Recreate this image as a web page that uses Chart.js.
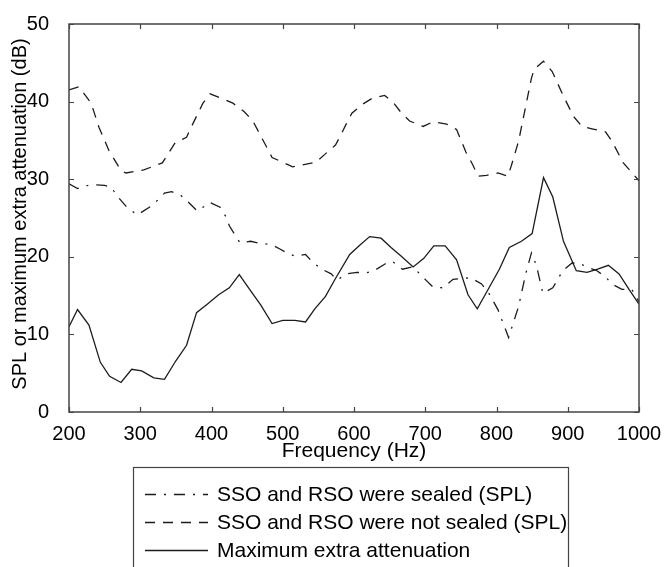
<!DOCTYPE html>
<html>
<head>
<meta charset="utf-8">
<script src="https://cdn.jsdelivr.net/npm/chart.js@4.4.1/dist/chart.umd.min.js"></script>
<style>
  html, body { margin: 0; padding: 0; background: #fff; }
  canvas { display: block; }
</style>
</head>
<body>
<canvas id="chart" width="664" height="567"></canvas>
<script>
// SSO and RSO were sealed (SPL) - dash-dot
const freqSealed = [200, 212, 230, 250, 259, 268, 282, 296, 318, 334, 344, 356, 368, 380, 398, 412, 420, 425, 440, 455, 470, 484, 496, 506, 517, 532, 542, 555, 568, 576, 590, 604, 616, 628, 644, 654, 668, 682, 688, 702, 711, 725, 739, 764, 779, 788, 802, 817, 831, 841, 849, 856, 865, 879, 893, 906, 915, 927, 941, 953, 962, 976, 990, 1000];
const splSealed = [29.4, 28.8, 29.3, 29.2, 29.0, 27.8, 26.3, 25.4, 26.7, 28.2, 28.4, 28.0, 27.0, 25.9, 27.0, 26.4, 25.2, 24.0, 21.8, 22.0, 21.7, 21.6, 21.0, 20.5, 20.1, 20.3, 19.3, 18.4, 17.8, 17.0, 17.8, 18.0, 17.9, 18.2, 19.1, 19.4, 18.4, 18.7, 18.2, 16.9, 16.1, 16.0, 17.1, 17.3, 16.5, 15.5, 13.2, 9.6, 13.6, 17.8, 20.5, 18.9, 15.3, 16.0, 18.2, 19.2, 19.2, 18.7, 18.2, 17.4, 16.5, 15.8, 15.8, 14.2];

// SSO and RSO were not sealed (SPL) - dashed
const freqOpen = [200, 214, 231, 242, 256, 273, 280, 305, 331, 349, 365, 372, 388, 398, 415, 430, 446, 458, 469, 485, 514, 547, 559, 574, 581, 589, 597, 611, 625, 643, 655, 666, 678, 697, 711, 730, 744, 757, 767, 774, 786, 802, 816, 821, 831, 849, 853, 866, 878, 893, 908, 920, 934, 953, 962, 978, 1000];
const splOpen = [41.5, 41.9, 39.8, 36.7, 33.7, 31.1, 30.8, 31.2, 32.1, 34.7, 35.4, 36.8, 39.8, 41.0, 40.4, 39.8, 38.7, 37.5, 35.6, 32.8, 31.6, 32.2, 33.2, 34.4, 35.6, 37.1, 38.5, 39.6, 40.4, 40.8, 39.9, 38.6, 37.5, 36.8, 37.4, 37.1, 36.4, 33.5, 31.8, 30.4, 30.5, 30.8, 30.4, 31.8, 34.9, 43.0, 44.2, 45.2, 43.9, 40.9, 38.1, 36.8, 36.5, 36.1, 34.9, 32.1, 29.8];

// Maximum extra attenuation - solid
const freqAtten = [200, 212, 228, 244, 257, 273, 288, 302, 319, 334, 350, 365, 379, 394, 410, 425, 439, 455, 469, 485, 500, 517, 532, 545, 560, 574, 594, 608, 622, 638, 652, 666, 683, 698, 712, 728, 744, 760, 773, 787, 804, 818, 835, 850, 866, 879, 894, 912, 927, 942, 957, 972, 986, 1000];
const maxAtten = [11.0, 13.2, 11.2, 6.4, 4.6, 3.8, 5.5, 5.3, 4.4, 4.2, 6.6, 8.6, 12.8, 13.9, 15.1, 16.0, 17.7, 15.6, 13.8, 11.4, 11.8, 11.8, 11.6, 13.3, 14.9, 17.2, 20.3, 21.5, 22.6, 22.4, 21.2, 20.1, 18.7, 19.8, 21.4, 21.4, 19.6, 15.1, 13.3, 15.6, 18.4, 21.2, 22.0, 23.0, 30.2, 27.7, 22.0, 18.2, 18.0, 18.4, 18.9, 17.8, 15.8, 13.9];

const xTicks = [200, 300, 400, 500, 600, 700, 800, 900, 1000];
const yTicks = [0, 10, 20, 30, 40, 50];

const seriesNames = [
  'SSO and RSO were sealed (SPL)',
  'SSO and RSO were not sealed (SPL)',
  'Maximum extra attenuation'
];
const yTitle = 'SPL or maximum extra attenuation (dB)';

const FONT = '"Liberation Sans", Arial, Helvetica, sans-serif';
const INK = '#1c1c1c';

function toPoints(xs, ys) {
  return xs.map((x, i) => ({ x: x, y: ys[i] }));
}

// box on all four sides + inward ticks, like matlab
const boxTicks = {
  id: 'boxTicks',
  afterDraw(chart) {
    const { ctx, chartArea: a, scales } = chart;
    ctx.save();
    ctx.strokeStyle = '#444';
    ctx.lineWidth = 1.5;
    ctx.strokeRect(a.left, a.top, a.right - a.left, a.bottom - a.top);
    ctx.lineWidth = 1.2;
    ctx.beginPath();
    const len = 5;
    xTicks.forEach(v => {
      const px = Math.round(scales.x.getPixelForValue(v)) + 0.5;
      ctx.moveTo(px, a.bottom); ctx.lineTo(px, a.bottom - len);
      ctx.moveTo(px, a.top); ctx.lineTo(px, a.top + len);
    });
    yTicks.forEach(v => {
      const py = Math.round(scales.y.getPixelForValue(v)) + 0.5;
      ctx.moveTo(a.left, py); ctx.lineTo(a.left + len, py);
      ctx.moveTo(a.right, py); ctx.lineTo(a.right - len, py);
    });
    ctx.stroke();

    // y title drawn by hand so it can sit where the original has it
    ctx.fillStyle = '#000';
    ctx.font = '20px ' + FONT;
    ctx.textAlign = 'center';
    ctx.textBaseline = 'middle';
    ctx.translate(20, 214);
    ctx.rotate(-Math.PI / 2);
    ctx.fillText(yTitle, 0, 0);
    ctx.restore();
  }
};

// legend in a framed box under the x axis title
const boxLegend = {
  id: 'boxLegend',
  afterDraw(chart) {
    const ctx = chart.ctx;
    ctx.save();
    ctx.strokeStyle = '#444';
    ctx.lineWidth = 1.2;
    ctx.strokeRect(133.5, 467.5, 435, 110);
    const rows = [494, 522, 550];
    chart.data.datasets.forEach((ds, i) => {
      const y = rows[i] + 0.5;
      ctx.strokeStyle = ds.borderColor;
      ctx.lineWidth = ds.borderWidth;
      ctx.setLineDash(ds.borderDash || []);
      ctx.beginPath();
      ctx.moveTo(145, y);
      ctx.lineTo(208, y);
      ctx.stroke();
      ctx.setLineDash([]);
      ctx.fillStyle = '#000';
      ctx.font = '21px ' + FONT;
      ctx.textBaseline = 'middle';
      ctx.textAlign = 'left';
      ctx.fillText(ds.label, 217, rows[i] + 1);
    });
    ctx.restore();
  }
};

const chart = new Chart(document.getElementById('chart'), {
  type: 'line',
  data: {
    datasets: [
      {
        label: seriesNames[0],
        data: toPoints(freqSealed, splSealed),
        borderColor: INK,
        borderWidth: 1.3,
        borderDash: [11, 8, 2, 8],
        pointRadius: 0,
        tension: 0
      },
      {
        label: seriesNames[1],
        data: toPoints(freqOpen, splOpen),
        borderColor: INK,
        borderWidth: 1.3,
        borderDash: [10, 8],
        pointRadius: 0,
        tension: 0
      },
      {
        label: seriesNames[2],
        data: toPoints(freqAtten, maxAtten),
        borderColor: INK,
        borderWidth: 1.3,
        pointRadius: 0,
        tension: 0
      }
    ]
  },
  options: {
    responsive: false,
    animation: false,
    devicePixelRatio: 1,
    layout: { padding: { left: 0, right: 25, top: 18, bottom: 103 } },
    plugins: {
      legend: { display: false },
      tooltip: { enabled: false }
    },
    scales: {
      x: {
        type: 'linear',
        min: 200,
        max: 1000,
        afterBuildTicks(scale) { scale.ticks = xTicks.map(v => ({ value: v })); },
        afterFit(scale) { scale.height = 52; },
        grid: { display: false },
        border: { display: false },
        ticks: { color: '#000', font: { family: FONT, size: 20 }, padding: 2, maxRotation: 0, callback: v => String(v) },
        title: { display: true, text: 'Frequency (Hz)', color: '#000', font: { family: FONT, size: 21 }, padding: { top: 0, bottom: 0 } }
      },
      y: {
        min: 0,
        max: 50,
        afterBuildTicks(scale) { scale.ticks = yTicks.map(v => ({ value: v })); },
        afterFit(scale) { scale.width = 69; },
        grid: { display: false },
        border: { display: false },
        ticks: { color: '#000', font: { family: FONT, size: 20 }, padding: 12, callback: v => String(v) },
        title: { display: false }
      }
    }
  },
  plugins: [boxTicks, boxLegend]
});
</script>
</body>
</html>
